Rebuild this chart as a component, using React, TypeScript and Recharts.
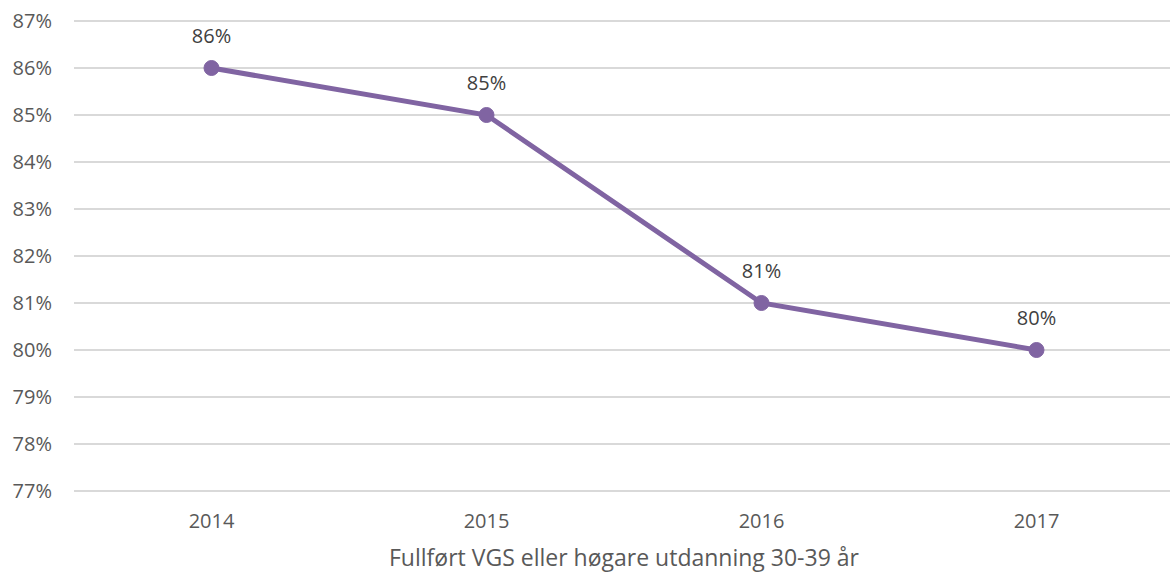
import React from "react";
import { LineChart, Line, XAxis, YAxis, CartesianGrid, LabelList, Label } from "recharts";

const years = ["2014", "2015", "2016", "2017"];
const shares = [86, 85, 81, 80];
const yTicks = [77, 78, 79, 80, 81, 82, 83, 84, 85, 86, 87];
const seriesName = "Fullført VGS eller høgare utdanning 30-39 år";

const data = years.map((y, i) => ({ year: y, value: shares[i] }));

const FONT = "'Open Sans', sans-serif";
const TXT = "#595959";

export default function App() {
  return (
    <div style={{ position: "absolute", left: 0, top: 0, width: 1170, height: 575, overflow: "hidden", background: "#fff" }}>
      <LineChart width={1174} height={575} data={data} margin={{ top: 21, right: 0, bottom: 0, left: 0 }}>
        <CartesianGrid vertical={false} stroke="#d9d9d9" strokeWidth={2} />
        <XAxis
          dataKey="year"
          axisLine={false}
          tickLine={false}
          tickSize={0}
          tickMargin={23}
          height={84}
          padding={{ left: 137.5, right: 137.5 }}
          tick={{ fill: TXT, fontSize: 20, fontFamily: FONT }}
          interval={0}
        >
          <Label value={seriesName} position="insideBottom" offset={9} style={{ fill: TXT, fontSize: 23, fontFamily: FONT }} />
        </XAxis>
        <YAxis
          domain={[77, 87]}
          ticks={yTicks}
          width={74}
          axisLine={false}
          tickLine={false}
          tickSize={0}
          tickMargin={22}
          interval={0}
          tickFormatter={(v: number) => `${v}%`}
          tick={{ fill: TXT, fontSize: 20, fontFamily: FONT }}
        />
        <Line
          type="linear"
          dataKey="value"
          stroke="#8064a2"
          strokeWidth={5}
          dot={{ r: 7.5, fill: "#8064a2", stroke: "#8064a2", strokeWidth: 1 }}
          isAnimationActive={false}
        >
          <LabelList
            dataKey="value"
            position="top"
            offset={25}
            formatter={(v: number) => `${v}%`}
            style={{ fill: "#404040", fontSize: 20, fontFamily: FONT }}
          />
        </Line>
      </LineChart>
    </div>
  );
}
